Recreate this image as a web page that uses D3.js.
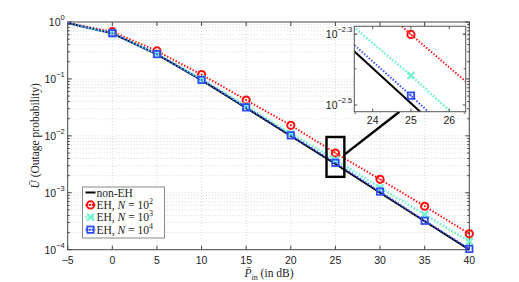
<!DOCTYPE html>
<html>
<head>
<meta charset="utf-8">
<script src="https://cdn.jsdelivr.net/npm/d3@7"></script>
<style>
  body { margin: 0; background: #fff; }
  svg { display: block; }
  .tick-label { font-family: "Liberation Sans", Arial, sans-serif; font-size: 10.5px; fill: #222; }
  .latex { font-family: "Liberation Serif", "Times New Roman", serif; font-size: 11.5px; fill: #222; }
</style>
</head>
<body>
<div id="chart"></div>
<script>
// P_in in dB
const snr = [-5, 0, 5, 10, 15, 20, 25, 30, 35, 40];

// outage probability
const nonEH = [0.958, 0.632, 0.271, 0.0952, 0.0311, 0.00995, 0.0032, 0.00100, 0.000316, 0.000100];
const eh100 = [0.962, 0.676, 0.310, 0.119, 0.0426, 0.0153, 0.00500, 0.00172, 0.000580, 0.000190];
const eh1000 = [0.960, 0.640, 0.278, 0.0995, 0.0333, 0.0110, 0.00383, 0.00123, 0.000414, 0.000140];
const eh10000 = [0.958, 0.634, 0.273, 0.0962, 0.0316, 0.0102, 0.00336, 0.00105, 0.000322, 0.000103];

const xTicks = [-5, 0, 5, 10, 15, 20, 25, 30, 35, 40];
const yDecades = [0, -1, -2, -3, -4];
const insetXTicks = [24, 25, 26];
const insetYTicks = [-2.3, -2.5];

const series = [
  { name: "non-EH", values: nonEH, color: "#000", width: 2, dash: null, marker: null, exp: null },
  { name: "EH", values: eh100, color: "#ff1010", width: 2, dash: "1.4,1.8", marker: "circle", exp: "2" },
  { name: "EH", values: eh1000, color: "#72f2d2", width: 2.6, dash: "1.6,1.8", marker: "x", exp: "3" },
  { name: "EH", values: eh10000, color: "#2f4dff", width: 2, dash: "1.4,1.8", marker: "square", exp: "4" }
];

const W = 519, H = 282;
const svg = d3.select("#chart").append("svg").attr("width", W).attr("height", H);

const L = 67.7, R = 469.3, T = 22, B = 249.7;
const x = d3.scaleLinear().domain([-5, 40]).range([L, R]);
const y = d3.scaleLog().domain([1e-4, 1]).range([B, T]);

//grid
const grid = svg.append("g").attr("stroke", "#cfcfcf").attr("stroke-width", 0.8).attr("stroke-dasharray", "1,2");
xTicks.slice(1, -1).forEach(t => {
  grid.append("line").attr("x1", x(t)).attr("x2", x(t)).attr("y1", T).attr("y2", B);
});
for (let k = -4; k < 0; k++) {
  for (let m = 1; m < 10; m++) {
    const v = m * Math.pow(10, k);
    if (v <= 1e-4) continue;
    grid.append("line").attr("x1", L).attr("x2", R).attr("y1", y(v)).attr("y2", y(v));
  }
}

//axes box and ticks
const ax = svg.append("g").attr("stroke", "#444").attr("stroke-width", 1).attr("fill", "none");
ax.append("rect").attr("x", L).attr("y", T).attr("width", R - L).attr("height", B - T);
xTicks.forEach(t => {
  ax.append("line").attr("x1", x(t)).attr("x2", x(t)).attr("y1", B).attr("y2", B - 4);
  ax.append("line").attr("x1", x(t)).attr("x2", x(t)).attr("y1", T).attr("y2", T + 4);
});
for (let k = -4; k <= 0; k++) {
  for (let m = 1; m < 10; m++) {
    const v = m * Math.pow(10, k);
    if (v > 1) continue;
    const len = m == 1 ? 4 : 2;
    ax.append("line").attr("x1", L).attr("x2", L + len).attr("y1", y(v)).attr("y2", y(v));
    ax.append("line").attr("x1", R).attr("x2", R - len).attr("y1", y(v)).attr("y2", y(v));
  }
}

//tick labels
svg.append("g").selectAll("text").data(xTicks).join("text")
  .attr("class", "tick-label")
  .attr("x", d => x(d)).attr("y", B + 14.5)
  .attr("text-anchor", "middle")
  .text(d => d < 0 ? "\u2212" + Math.abs(d) : d);

const powLabel = (g, px, py, exp, anchor) => {
  const t = g.append("text").attr("class", "tick-label")
    .attr("x", px).attr("y", py + 4).attr("text-anchor", anchor);
  t.append("tspan").text("10");
  t.append("tspan").attr("dy", -6).attr("font-size", "7.5px").text(exp);
  return t;
};
const yl = svg.append("g");
yDecades.forEach(k => powLabel(yl, L - 3, y(Math.pow(10, k)), k < 0 ? "\u2212" + Math.abs(k) : String(k), "end"));

//axis titles
const xt = svg.append("text").attr("class", "latex").attr("x", 269).attr("y", 276.5).attr("text-anchor", "middle");
xt.append("tspan").attr("font-style", "italic").text("P\u0304");
xt.append("tspan").attr("dy", 3).attr("font-size", "8px").text("in");
xt.append("tspan").attr("dy", -3).text(" (in dB)");

const yt = svg.append("text").attr("class", "latex")
  .attr("transform", "translate(39," + ((T + B) / 2) + ") rotate(-90)")
  .attr("text-anchor", "middle");
yt.append("tspan").attr("font-style", "italic").text("U\u0304");
yt.append("tspan").text(" (Outage probability)");

//markers
const drawMarker = (g, s, px, py) => {
  if (s.marker == "circle") {
    g.append("circle").attr("cx", px).attr("cy", py).attr("r", 3.6)
      .attr("fill", "none").attr("stroke", s.color).attr("stroke-width", 2);
    g.append("circle").attr("cx", px).attr("cy", py).attr("r", 0.8).attr("fill", s.color);
  } else if (s.marker == "x") {
    const r = 3.4;
    g.append("path").attr("d", `M${px - r},${py - r}L${px + r},${py + r}M${px - r},${py + r}L${px + r},${py - r}`)
      .attr("stroke", s.color).attr("stroke-width", 2.2).attr("fill", "none");
  } else if (s.marker == "square") {
    g.append("rect").attr("x", px - 3.2).attr("y", py - 3.2).attr("width", 6.4).attr("height", 6.4)
      .attr("fill", "none").attr("stroke", s.color).attr("stroke-width", 1.8);
    g.append("rect").attr("x", px - 0.8).attr("y", py - 0.8).attr("width", 1.6).attr("height", 1.6).attr("fill", s.color);
  }
};

const drawSeries = (g, xs, ys, markerFilter) => {
  series.forEach(s => {
    const line = d3.line().x((d, i) => xs(snr[i])).y(d => ys(d));
    g.append("path").datum(s.values).attr("d", line)
      .attr("fill", "none").attr("stroke", s.color).attr("stroke-width", s.width)
      .attr("stroke-dasharray", s.dash);
  });
  series.forEach(s => {
    if (!s.marker) return;
    s.values.forEach((v, i) => {
      if (markerFilter(snr[i])) drawMarker(g, s, xs(snr[i]), ys(v));
    });
  });
};

const plot = svg.append("g");
drawSeries(plot, x, y, t => t >= 0);

//legend
const lg = svg.append("g").attr("transform", "translate(82.5,187)");
lg.append("rect").attr("width", 82).attr("height", 51).attr("fill", "#fff").attr("stroke", "#888").attr("stroke-width", 1);
series.forEach((s, i) => {
  const ly = 5.5 + i * 12.4;
  lg.append("line").attr("x1", 3).attr("x2", 13).attr("y1", ly).attr("y2", ly)
    .attr("stroke", s.color).attr("stroke-width", s.width).attr("stroke-dasharray", s.dash);
  drawMarker(lg, s, 8, ly);
  const t = lg.append("text").attr("class", "latex").attr("x", 14).attr("y", ly + 4);
  if (!s.exp) {
    t.text(s.name);
  } else {
    t.append("tspan").text("EH, ");
    t.append("tspan").attr("font-style", "italic").text("N");
    t.append("tspan").text(" = 10");
    t.append("tspan").attr("dy", -5).attr("font-size", "8px").text(s.exp);
  }
});

//zoom rectangle on main plot
const zx0 = 24, zx1 = 26, zy0 = Math.pow(10, -2.02), zy1 = Math.pow(10, -2.72);
svg.append("rect")
  .attr("x", x(zx0)).attr("y", y(zy0))
  .attr("width", x(zx1) - x(zx0)).attr("height", y(zy1) - y(zy0))
  .attr("fill", "none").attr("stroke", "#000").attr("stroke-width", 2.4);

//inset
const iL = 354.3, iR = 465.7, iT = 26.3, iB = 111.7;
const xi = d3.scaleLinear().domain([23.52, 26.43]).range([iL, iR]);
const yi = d3.scaleLog().domain([Math.pow(10, -2.519), Math.pow(10, -2.278)]).range([iB, iT]);

svg.append("line")
  .attr("x1", x(zx1)).attr("y1", y(Math.pow(10, -2.33)))
  .attr("x2", xi(24.7)).attr("y2", iB)
  .attr("stroke", "#000").attr("stroke-width", 2.4);

svg.append("rect").attr("x", iL).attr("y", iT).attr("width", iR - iL).attr("height", iB - iT).attr("fill", "#fff");
svg.append("defs").append("clipPath").attr("id", "inset-clip")
  .append("rect").attr("x", iL).attr("y", iT).attr("width", iR - iL).attr("height", iB - iT);
const ig = svg.append("g").attr("clip-path", "url(#inset-clip)");
drawSeries(ig, xi, yi, t => t >= 23.5 && t <= 26.5);

const iax = svg.append("g").attr("stroke", "#555").attr("stroke-width", 1).attr("fill", "none");
iax.append("rect").attr("x", iL).attr("y", iT).attr("width", iR - iL).attr("height", iB - iT);
insetXTicks.forEach(t => {
  iax.append("line").attr("x1", xi(t)).attr("x2", xi(t)).attr("y1", iB).attr("y2", iB - 3);
  iax.append("line").attr("x1", xi(t)).attr("x2", xi(t)).attr("y1", iT).attr("y2", iT + 3);
});
[3e-3, 4e-3, 5e-3].forEach(v => {
  iax.append("line").attr("x1", iL).attr("x2", iL + 2).attr("y1", yi(v)).attr("y2", yi(v));
  iax.append("line").attr("x1", iR).attr("x2", iR - 2).attr("y1", yi(v)).attr("y2", yi(v));
});
insetYTicks.forEach(k => {
  const v = Math.pow(10, k);
  iax.append("line").attr("x1", iL).attr("x2", iL + 3).attr("y1", yi(v)).attr("y2", yi(v));
  iax.append("line").attr("x1", iR).attr("x2", iR - 3).attr("y1", yi(v)).attr("y2", yi(v));
});

svg.append("g").selectAll("text").data(insetXTicks).join("text")
  .attr("class", "tick-label")
  .attr("x", d => xi(d)).attr("y", iB + 12)
  .attr("text-anchor", "middle").text(d => d);
const iyl = svg.append("g");
insetYTicks.forEach(k => powLabel(iyl, iL - 2, yi(Math.pow(10, k)), "\u2212" + Math.abs(k), "end"));
</script>
</body>
</html>
